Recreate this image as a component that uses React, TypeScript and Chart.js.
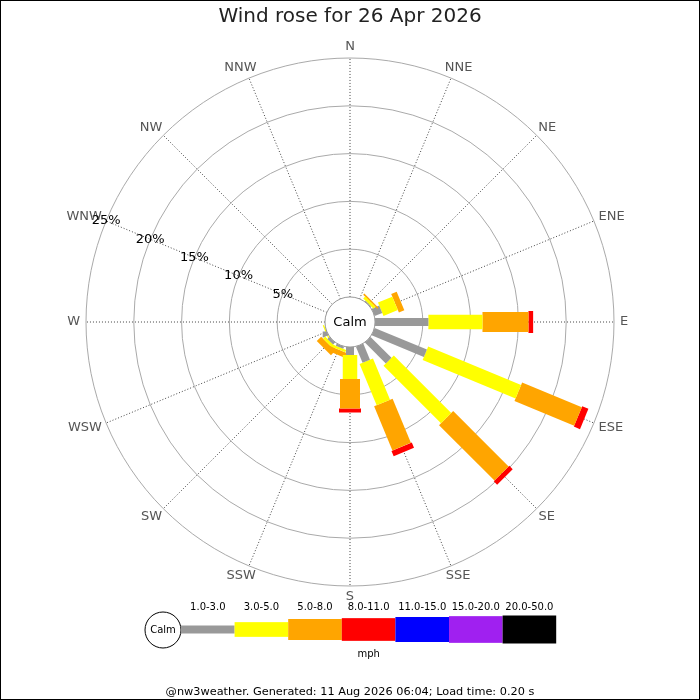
import { useEffect, useRef } from 'react';
import { Chart, registerables } from 'chart.js';

Chart.register(...registerables);

// ---- data ----
const titleText = 'Wind rose for 26 Apr 2026';
const footerText = '@nw3weather. Generated: 11 Aug 2026 06:04; Load time: 0.20 s';
const unitText = 'mph';
const calmText = 'Calm';

const directions = ['N', 'NNE', 'NE', 'ENE', 'E', 'ESE', 'SE', 'SSE', 'S', 'SSW', 'SW', 'WSW', 'W', 'WNW', 'NW', 'NNW'];
const speedBands = ['1.0-3.0', '3.0-5.0', '5.0-8.0', '8.0-11.0', '11.0-15.0', '15.0-20.0', '20.0-50.0'];

// percentage of time per direction for each speed band
const pct1to3 = [0, 0, 0.10, 0.86, 5.58, 5.92, 3.10, 1.83, 0.84, 0.25, 0.30, 0.02, 0, 0, 0, 0];
const pct3to5 = [0, 0, 0.28, 1.62, 5.66, 10.52, 8.50, 4.67, 2.51, 0.25, 0.30, 0.13, 0, 0, 0, 0];
const pct5to8 = [0, 0, 0.17, 0.62, 4.81, 6.76, 8.20, 5.00, 3.07, 0.55, 0.65, 0, 0, 0, 0, 0];
const pct8to11 = [0, 0, 0, 0, 0.49, 0.70, 0.50, 0.60, 0.42, 0, 0, 0, 0, 0, 0, 0];
const pct11to15 = [0, 0, 0, 0, 0, 0, 0, 0, 0, 0, 0, 0, 0, 0, 0, 0];
const pct15to20 = [0, 0, 0, 0, 0, 0, 0, 0, 0, 0, 0, 0, 0, 0, 0, 0];
const pct20to50 = [0, 0, 0, 0, 0, 0, 0, 0, 0, 0, 0, 0, 0, 0, 0, 0];

const ringPercents = [5, 10, 15, 20, 25];
const ringLabels = ['5%', '10%', '15%', '20%', '25%'];

// ---- styles ----
const bandColors = ['#999999', '#ffff00', '#ffa500', '#ff0000', '#0000ff', '#a020f0', '#000000'];
const bandWidths = [8, 14.5, 20, 22, 25, 27, 28];
const legendHeights = [8, 14.7, 21, 22.7, 25, 26.7, 28];
const CALM = 2.62; // calm circle radius, in percent units
const FONT = "'DejaVu Sans', sans-serif";

const series = [pct1to3, pct3to5, pct5to8, pct8to11, pct11to15, pct15to20, pct20to50];

function buildDatasets() {
  const datasets: any[] = [];
  directions.forEach((dir, i) => {
    const a = (i * Math.PI) / 8;
    let cum = 0;
    series.forEach((arr, b) => {
      const v = arr[i];
      if (v > 0) {
        const r0 = CALM + cum;
        const r1 = CALM + cum + v;
        datasets.push({
          label: dir + ' ' + speedBands[b],
          data: [
            { x: r0 * Math.sin(a), y: r0 * Math.cos(a) },
            { x: r1 * Math.sin(a), y: r1 * Math.cos(a) },
          ],
          showLine: true,
          borderColor: bandColors[b],
          borderWidth: bandWidths[b],
          borderCapStyle: 'butt',
          pointRadius: 0,
          pointHoverRadius: 0,
          fill: false,
          clip: false,
        });
      }
      cum += v;
    });
  });
  return datasets;
}

const rosePlugin = {
  id: 'roseDecor',
  beforeDraw(chart: any) {
    const ctx = chart.ctx;
    ctx.save();
    ctx.fillStyle = '#ffffff';
    ctx.fillRect(0, 0, chart.width, chart.height);
    ctx.restore();
  },
  beforeDatasetsDraw(chart: any) {
    const ctx = chart.ctx;
    const xs = chart.scales.x;
    const ys = chart.scales.y;
    const cx = xs.getPixelForValue(0);
    const cy = ys.getPixelForValue(0);
    const rpx = (p: number) => xs.getPixelForValue(CALM + p) - cx;
    const outer = rpx(ringPercents[ringPercents.length - 1]);
    const inner = rpx(0);
    ctx.save();
    // rings
    ctx.strokeStyle = '#aaaaaa';
    ctx.lineWidth = 1;
    ringPercents.forEach((p) => {
      ctx.beginPath();
      ctx.arc(cx, cy, rpx(p), 0, Math.PI * 2);
      ctx.stroke();
    });
    // spokes
    ctx.strokeStyle = '#444444';
    ctx.setLineDash([1, 2]);
    directions.forEach((d, i) => {
      const a = (i * Math.PI) / 8;
      ctx.beginPath();
      ctx.moveTo(cx + Math.sin(a) * inner, cy - Math.cos(a) * inner);
      ctx.lineTo(cx + Math.sin(a) * outer, cy - Math.cos(a) * outer);
      ctx.stroke();
    });
    ctx.setLineDash([]);
    // direction labels
    ctx.font = '13px ' + FONT;
    ctx.fillStyle = '#555555';
    ctx.textAlign = 'center';
    ctx.textBaseline = 'middle';
    directions.forEach((d, i) => {
      const a = (i * Math.PI) / 8;
      const w = ctx.measureText(d).width;
      const ra = outer + 6;
      const x = cx + Math.sin(a) * ra + Math.sin(a) * (w / 2);
      const y = cy - Math.cos(a) * ra - Math.cos(a) * 5;
      ctx.fillText(d, x, y);
    });
    ctx.restore();
  },
  afterDatasetsDraw(chart: any) {
    const ctx = chart.ctx;
    const xs = chart.scales.x;
    const ys = chart.scales.y;
    const cx = xs.getPixelForValue(0);
    const cy = ys.getPixelForValue(0);
    const rpx = (p: number) => xs.getPixelForValue(CALM + p) - cx;
    ctx.save();
    // calm circle
    ctx.beginPath();
    ctx.arc(cx, cy, rpx(0), 0, Math.PI * 2);
    ctx.fillStyle = '#ffffff';
    ctx.fill();
    ctx.strokeStyle = '#999999';
    ctx.lineWidth = 1;
    ctx.stroke();
    ctx.fillStyle = '#000000';
    ctx.font = '13px ' + FONT;
    ctx.textAlign = 'center';
    ctx.textBaseline = 'middle';
    ctx.fillText(calmText, cx, cy + 1);
    // ring labels along WNW spoke
    const la = (13 * Math.PI) / 8;
    ringPercents.forEach((p, k) => {
      const r = rpx(p);
      ctx.fillText(ringLabels[k], cx + Math.sin(la) * r, cy - Math.cos(la) * r);
    });
    // title
    ctx.fillStyle = '#222222';
    ctx.font = '20px ' + FONT;
    ctx.fillText(titleText, chart.width / 2, 17);
    // legend
    const lx0 = 181;
    const segW = 53.6;
    const ly = 629.5;
    ctx.beginPath();
    ctx.arc(lx0 - 18, ly + 0.5, 18, 0, Math.PI * 2);
    ctx.fillStyle = '#ffffff';
    ctx.fill();
    ctx.strokeStyle = '#000000';
    ctx.stroke();
    ctx.fillStyle = '#000000';
    ctx.font = '10px ' + FONT;
    ctx.fillText(calmText, lx0 - 18, ly + 1);
    speedBands.forEach((lab, b) => {
      const x = lx0 + b * segW;
      const h = legendHeights[b];
      ctx.fillStyle = bandColors[b];
      ctx.fillRect(x, ly - h / 2, segW, h);
      ctx.fillStyle = '#000000';
      ctx.fillText(lab, x + segW / 2, 607);
    });
    ctx.fillText(unitText, lx0 + (segW * speedBands.length) / 2, 654);
    ctx.font = '11.3px ' + FONT;
    ctx.fillText(footerText, chart.width / 2, 692);
    // frame
    ctx.strokeStyle = '#000000';
    ctx.lineWidth = 1;
    ctx.strokeRect(0.5, 0.5, chart.width - 1, chart.height - 1);
    ctx.restore();
  },
};

export default function App() {
  const ref = useRef<HTMLCanvasElement | null>(null);
  useEffect(() => {
    if (!ref.current) return;
    const R = CALM + ringPercents[ringPercents.length - 1];
    const chart = new Chart(ref.current, {
      type: 'scatter',
      data: { datasets: buildDatasets() },
      options: {
        animation: false,
        responsive: true,
        maintainAspectRatio: false,
        layout: { padding: { left: 86, right: 86, top: 58, bottom: 114 } },
        scales: {
          x: { type: 'linear', min: -R, max: R, display: false },
          y: { type: 'linear', min: -R, max: R, display: false },
        },
        plugins: {
          legend: { display: false },
          tooltip: { enabled: false },
          title: { display: false },
        },
        events: [],
      },
      plugins: [rosePlugin],
    });
    return () => chart.destroy();
  }, []);
  return (
    <div style={{ position: 'absolute', left: 0, top: 0, width: 700, height: 700 }}>
      <canvas ref={ref} />
    </div>
  );
}
